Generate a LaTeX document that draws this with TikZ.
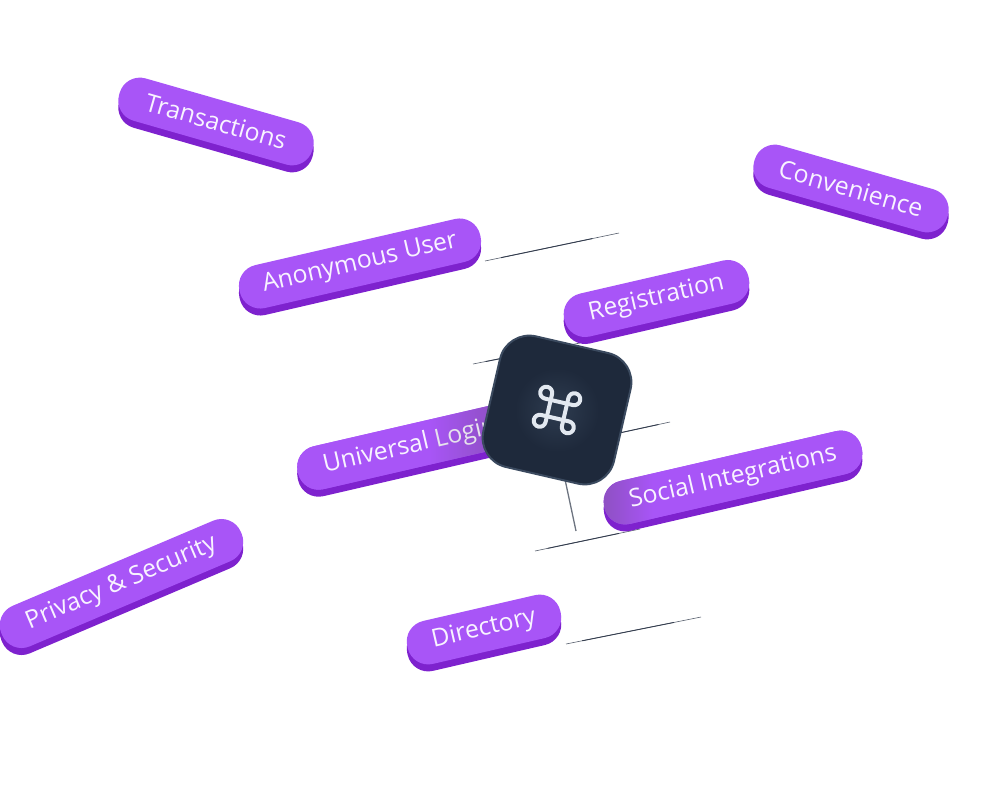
\documentclass[tikz,border=0pt]{standalone}
\usepackage{fontspec}
\setmainfont{Open Sans}
\usetikzlibrary{calc}
\definecolor{pillface}{HTML}{A855F7}
\definecolor{pillside}{HTML}{7E22CE}
\definecolor{pilldim}{HTML}{8F50C4}
\definecolor{pilltext}{HTML}{F8F3FF}
\definecolor{slab}{HTML}{1E293B}
\definecolor{slabedge}{HTML}{3B4A5F}
\definecolor{slabglow}{HTML}{2E3C50}
\definecolor{iconline}{HTML}{E2E8F0}
\pgfdeclarehorizontalshading{pill dim right}{100bp}{color(0bp)=(pillface);color(54bp)=(pillface);color(68bp)=(pilldim);color(100bp)=(pilldim)}
\pgfdeclarehorizontalshading{pill dim left}{100bp}{color(0bp)=(pilldim);color(26bp)=(pilldim);color(35bp)=(pillface);color(100bp)=(pillface)}
\tikzstyle{pill side}=[fill=pillside,rounded corners=21,minimum height=44,inner sep=0]
\tikzstyle{pill top}=[fill=pillface,rounded corners=21,minimum height=44,inner sep=0,text=pilltext,font=\fontsize{24.8}{25}\selectfont]
\tikzstyle{pill top right}=[pill top,shade,shading=pill dim right]
\tikzstyle{pill top left}=[pill top,shade,shading=pill dim left]
\tikzstyle{wire}=[draw=slab!90,line width=0.9]
\tikzstyle{wire thin}=[draw=slab!75,line width=0.6]
\tikzstyle{wire pale}=[draw=slab!65,line width=1.3]
\tikzstyle{icon}=[draw=iconline,line width=4,line cap=round,line join=round]
\begin{document}
\begin{tikzpicture}[x=1pt,y=-1pt]
        \useasboundingbox (0,0) rectangle (1008,800);

        % WIRES
        \coordinate (A1) at (485,261);
        \coordinate (A2) at (619,233);
        \coordinate (B1) at (473,364);
        \coordinate (B2) at (580,343);
        \coordinate (C1) at (610,435);
        \coordinate (C2) at (670,422);
        \coordinate (D1) at (563,470);
        \coordinate (D2) at (576,531);
        \coordinate (E1) at (535,551);
        \coordinate (E2) at (640,529);
        \coordinate (F1) at (566,644);
        \coordinate (F2) at (701,617);
        \foreach \s/\e in {A1/A2,B1/B2,C1/C2,E1/E2,F1/F2}{
          \draw[wire thin] (\s) -- (\e);
          \draw[wire] ($(\s)!0.12!(\e)$) -- ($(\s)!0.8!(\e)$);
        }
        \draw[wire pale] (D1) -- (D2);

        % PILLS
        \foreach \name/\x/\y/\ang/\len/\look/\txt in {
            transactions/216/121.5/-16/201/pill top/Transactions,
            convenience/851/188.5/-16/201/pill top/Convenience,
            anonymous/360/263.5/13/247/pill top/Anonymous User,
            registration/656.5/298.5/13/189/pill top/Registration,
            universal/410/446.6/13/230/pill top right/{Universal {\color{pilltext!85!gray}Login}},
            social/733/477.5/13/264/pill top left/Social Integrations,
            privacy/121.5/583.5/23/260/pill top/Privacy \& Security,
            directory/484/629.5/13/157/pill top/Directory}{
          \node[pill side,rotate=\ang,minimum width=\len] (\name-side) at (\x,\y+7) {};
          \node[\look,rotate=\ang,minimum width=\len] (\name) at (\x,\y) {\txt};
        }

        % COMMAND SLAB
        \coordinate (K) at (557,410);
        \node[draw=slabedge,fill=slab,line width=2,rounded corners=30,minimum width=134,minimum height=134,rotate=-13] (slab) at (K) {};
        \shade[inner color=slabglow,outer color=slab] (K) circle (42);
        \begin{scope}[shift={(K)},rotate=-13,x=1pt,y=1pt]
          \foreach \a in {0,90,180,270}{
            \draw[icon,rotate=\a] (14.4,8.4) arc[start angle=-90,end angle=180,radius=6] -- (8.4,-14.4);
          }
        \end{scope}

    \end{tikzpicture}
\end{document}
